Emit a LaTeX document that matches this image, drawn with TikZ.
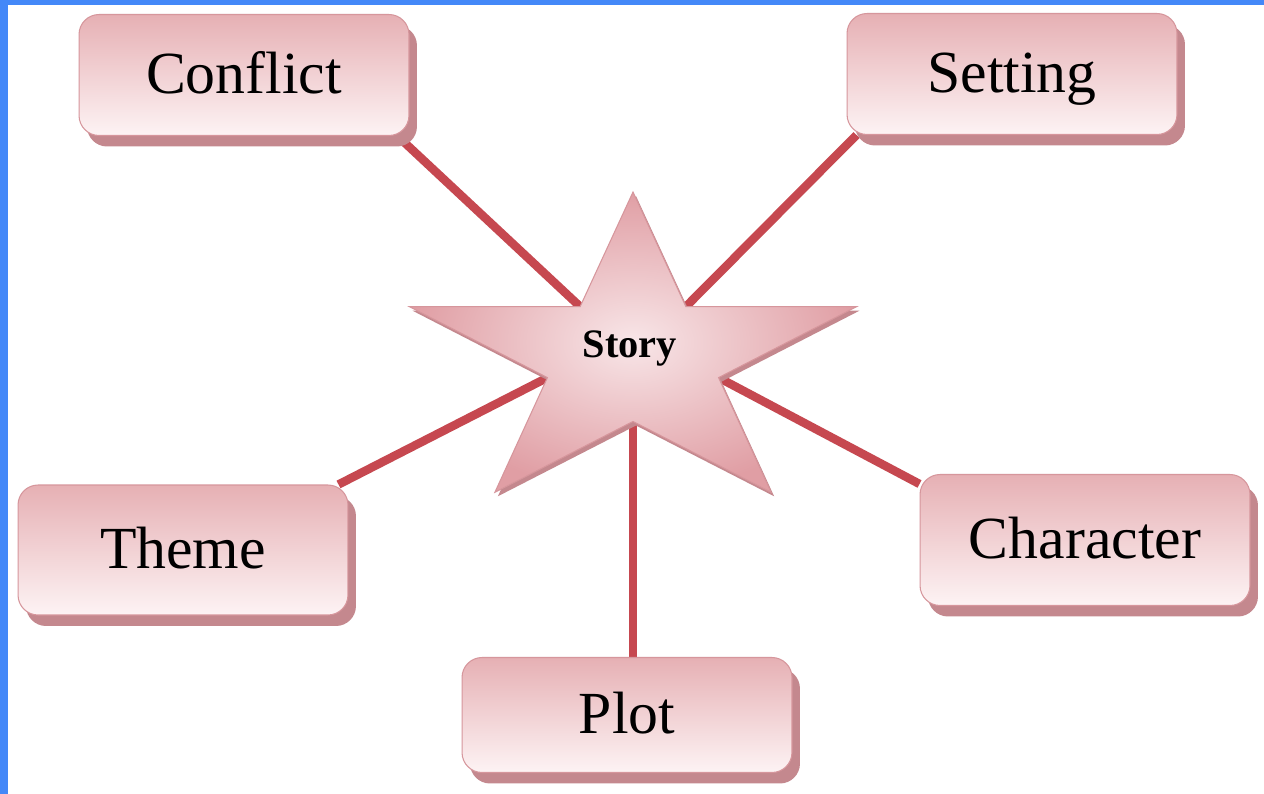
\documentclass[tikz,border=0pt]{standalone}
\usepackage{fontspec}
\setmainfont{Liberation Serif}
\usetikzlibrary{shadows}
\definecolor{framecol}{RGB}{68,136,248}
\definecolor{spokecol}{RGB}{198,72,80}
\definecolor{boxtop}{RGB}{230,176,180}
\definecolor{boxbottom}{RGB}{253,243,244}
\definecolor{boxedge}{RGB}{214,150,156}
\definecolor{boxshade}{RGB}{196,136,142}
\definecolor{starin}{RGB}{248,230,232}
\definecolor{starout}{RGB}{224,158,164}
\pgfdeclarelayer{background}
\pgfsetlayers{background,main}

\begin{document}
\begin{tikzpicture}
[x=0.02cm,y=-0.02cm,
topicnode/.style={rectangle,rounded corners=0.4cm,minimum width=6.6cm,
minimum height=2.42cm,draw=boxedge,line width=0.6pt,top color=boxtop,
bottom color=boxbottom,
drop shadow={shadow xshift=0.16cm,shadow yshift=-0.22cm,fill=boxshade,opacity=1},
font=\fontsize{34}{40}\selectfont,text height=21pt,text depth=0pt},
starshape/.style={draw=boxedge,line width=0.6pt,inner color=starin,
outer color=starout,
drop shadow={shadow xshift=0.06cm,shadow yshift=-0.08cm,fill=boxshade,opacity=1}},
storynode/.style={font=\bfseries\fontsize{23}{28}\selectfont},
spoke/.style={draw=spokecol,line width=0.17cm}
]
\useasboundingbox (0,0) rectangle (1264,794);
\fill[framecol] (0,0) rectangle (1264,5);
\fill[framecol] (0,0) rectangle (8,794);

\node[topicnode] (conflict) at (244,75) {Conflict};
\node[topicnode] (setting) at (1012,74) {Setting};
\node[topicnode,minimum height=2.6cm] (theme) at (183,550) {Theme};
\node[topicnode,minimum height=2.62cm] (character) at (1085,540) {Character};
\node[topicnode,minimum height=2.3cm] (plot) at (627,715) {Plot};

\coordinate (story) at (633,358);
\begin{scope}[shift={(story)}]
\draw[starshape] (90:4.7cm and 3.32cm)
  \foreach \k in {0,...,4}{
    -- ({126+72*\k}:1.8cm and 1.27cm) coordinate (notch\k)
    -- ({162+72*\k}:4.7cm and 3.32cm)}
  -- cycle;
\end{scope}
\node[storynode] (storylabel) at (630,348) {Story};

\begin{pgfonlayer}{background}
\fill[white] (8,5) rectangle (1264,794);
\draw[spoke] ([xshift=-0.24cm]conflict.south east) -- (notch0);
\draw[spoke] ([xshift=-0.2cm]theme.north east) -- (notch1);
\draw[spoke] (notch2 |- plot.north) -- (notch2);
\draw[spoke] ([yshift=-0.2cm]character.north west) -- (notch3);
\draw[spoke] ([xshift=0.2cm]setting.south west) -- (notch4);
\end{pgfonlayer}
\end{tikzpicture}
\end{document}
